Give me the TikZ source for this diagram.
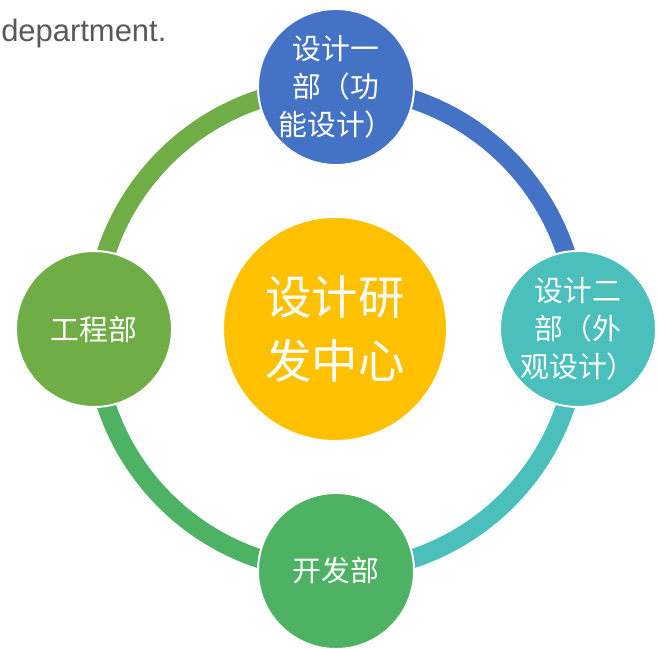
\documentclass[tikz,border=0pt]{standalone}
\usepackage{fontspec}
\setmainfont{Liberation Sans}
\newfontfamily\cjkfont{Noto Sans CJK SC}
\usetikzlibrary{backgrounds}

\definecolor{deptblue}{HTML}{4472C4}
\definecolor{deptteal}{HTML}{4BBFBC}
\definecolor{deptgreen}{HTML}{4DB263}
\definecolor{deptolive}{HTML}{70AD47}
\definecolor{hubyellow}{HTML}{FFC000}
\definecolor{notegray}{HTML}{595959}

\begin{document}
\begin{tikzpicture}[x=0.025cm, y=0.025cm,
    dept/.style={circle, draw=white, line width=0.5mm, minimum size=3.9cm, inner sep=0pt, align=center, text=white, font=\cjkfont\fontsize{20.5}{27}\selectfont},
    hub/.style={circle, draw=white, line width=0.5mm, fill=hubyellow, minimum size=5.6cm, inner sep=0pt, align=center, text=white, font=\cjkfont\fontsize{33}{45}\selectfont},
    ring/.style={line width=0.475cm}]
    \useasboundingbox (0,0) rectangle (659,649);
    \node[anchor=base west, inner sep=0pt, text=notegray, font=\fontsize{22}{26}\selectfont](note) at (1,607) {department.};

    \node[hub](center) at (335,320) {设计研\\发中心};

    \node[dept, fill=deptblue](design_one) at (336,562) {设计一\\部（功\\能设计）};
    \node[dept, fill=deptteal](design_two) at (578,320) {设计二\\部（外\\观设计）};
    \node[dept, fill=deptgreen](develop) at (336,78) {开发部};
    \node[dept, fill=deptolive](engineering) at (94,320) {工程部};

    \begin{scope}[on background layer]
        \draw[ring, deptblue] (design_one.center) to[out=0, in=90] (design_two.center);
        \draw[ring, deptteal] (design_two.center) to[out=-90, in=0] (develop.center);
        \draw[ring, deptgreen] (develop.center) to[out=180, in=-90] (engineering.center);
        \draw[ring, deptolive] (engineering.center) to[out=90, in=180] (design_one.center);
    \end{scope}
\end{tikzpicture}
\end{document}
